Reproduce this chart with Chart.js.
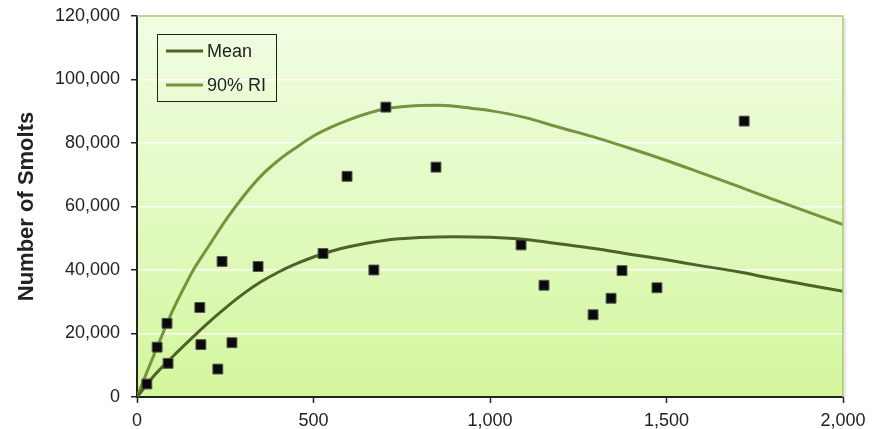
<!DOCTYPE html>
<html>
<head>
<meta charset="utf-8">
<script src="https://cdn.jsdelivr.net/npm/chart.js@4"></script>
<style>
  html, body { margin: 0; padding: 0; background: #fff; }
  #wrap { width: 882px; height: 429px; }
</style>
</head>
<body>
<div id="wrap"><canvas id="smoltChart" width="882" height="429"></canvas></div>
<script>
// Observed spawners (x) and smolts (y)
const obsSpawners = [28, 57, 85, 88, 178, 181, 229, 241, 269, 343, 527, 595, 671, 705, 847, 1088, 1153, 1292, 1343, 1374, 1473, 1720];
const obsSmolts = [4100, 15700, 23200, 10600, 28200, 16500, 8800, 42700, 17100, 41100, 45200, 69500, 40000, 91300, 72400, 47900, 35200, 25900, 31100, 39800, 34400, 86900];

// Fitted curves
const meanX = [0, 25, 50, 100, 150, 200, 250, 300, 350, 400, 450, 500, 550, 600, 700, 800, 900, 1000, 1100, 1200, 1300, 1400, 1500, 1600, 1700, 1800, 1900, 2000];
const meanY = [0, 3500, 6900, 12600, 18000, 23200, 28000, 32400, 36200, 39300, 41900, 44100, 45900, 47300, 49300, 50200, 50500, 50300, 49600, 48200, 46700, 44900, 43200, 41300, 39500, 37300, 35300, 33300];

const riX = [0, 25, 57, 85, 100, 145, 160, 200, 250, 300, 350, 400, 450, 500, 550, 600, 650, 700, 750, 800, 850, 900, 950, 1000, 1100, 1200, 1300, 1400, 1500, 1600, 1700, 1800, 1900, 2000];
const riY = [0, 7000, 15700, 23200, 27000, 37000, 40100, 47000, 55500, 63000, 69500, 74500, 78500, 82200, 85000, 87300, 89200, 90700, 91400, 91800, 91900, 91600, 90900, 90200, 88000, 84800, 81700, 78200, 74500, 70500, 66500, 62300, 58300, 54300];

const xTicks = [0, 500, 1000, 1500, 2000];
const yTicks = [0, 20000, 40000, 60000, 80000, 100000, 120000];

function pairs(xs, ys) {
    return xs.map((x, i) => ({ x: x, y: ys[i] }));
}

const fontFamily = '"Liberation Sans", Arial, sans-serif';

// plot area gradient + borders
const plotBackground = {
    id: 'plotBackground',
    beforeDraw(chart) {
        const { ctx, chartArea: a } = chart;
        const g = ctx.createLinearGradient(0, a.top, 0, a.bottom);
        g.addColorStop(0, '#f1fde2');
        g.addColorStop(0.5, '#e2fac2');
        g.addColorStop(1, '#d3f69c');
        ctx.save();
        ctx.fillStyle = g;
        ctx.fillRect(a.left, a.top, a.right - a.left, a.bottom - a.top);
        ctx.restore();
    },
    afterDraw(chart) {
        const { ctx, chartArea: a } = chart;
        ctx.save();
        // soft shadow right of the plot
        ctx.strokeStyle = 'rgba(0,0,0,0.08)';
        ctx.lineWidth = 3;
        ctx.beginPath();
        ctx.moveTo(a.right + 2, a.top + 2);
        ctx.lineTo(a.right + 2, a.bottom);
        ctx.stroke();
        ctx.strokeStyle = '#a9c76f';
        ctx.lineWidth = 1.5;
        ctx.beginPath();
        ctx.moveTo(a.left, a.top);
        ctx.lineTo(a.right, a.top);
        ctx.lineTo(a.right, a.bottom);
        ctx.stroke();
        ctx.restore();
    }
};

// legend box inside the plot
const innerLegend = {
    id: 'innerLegend',
    afterDraw(chart) {
        const ctx = chart.ctx;
        const a = chart.chartArea;
        const x0 = a.left + 20, y0 = a.top + 18;
        const w = 119, h = 67;
        ctx.save();
        ctx.strokeStyle = '#222';
        ctx.lineWidth = 1;
        ctx.strokeRect(x0 + 0.5, y0 + 0.5, w, h);
        ctx.font = '18px ' + fontFamily;
        ctx.textBaseline = 'middle';
        ctx.fillStyle = '#222';
        const items = chart.data.datasets.filter(d => d.label);
        items.forEach((d, i) => {
            const yy = y0 + 17 + i * 34;
            ctx.strokeStyle = d.borderColor;
            ctx.lineWidth = 3;
            ctx.beginPath();
            ctx.moveTo(x0 + 9, yy);
            ctx.lineTo(x0 + 46, yy);
            ctx.stroke();
            ctx.fillText(d.label, x0 + 50, yy + 1);
        });
        ctx.restore();
    }
};

const ctx = document.getElementById('smoltChart').getContext('2d');
new Chart(ctx, {
    type: 'scatter',
    data: {
        datasets: [
            {
                data: pairs(obsSpawners, obsSmolts),
                pointStyle: 'rect',
                pointRadius: 7,
                pointHoverRadius: 7,
                backgroundColor: '#0a0a0a',
                borderColor: '#555',
                borderWidth: 1
            },
            {
                label: 'Mean',
                data: pairs(meanX, meanY),
                showLine: true,
                borderColor: '#4f6228',
                borderWidth: 3,
                pointRadius: 0,
                cubicInterpolationMode: 'monotone'
            },
            {
                label: '90% RI',
                data: pairs(riX, riY),
                showLine: true,
                borderColor: '#77933c',
                borderWidth: 3,
                pointRadius: 0,
                cubicInterpolationMode: 'monotone'
            }
        ]
    },
    options: {
        responsive: false,
        animation: false,
        layout: { padding: { left: 0, right: 39, top: 16, bottom: 0 } },
        plugins: {
            legend: { display: false },
            tooltip: { enabled: false }
        },
        scales: {
            x: {
                type: 'linear',
                min: 0,
                max: 2000,
                afterBuildTicks(axis) { axis.ticks = xTicks.map(v => ({ value: v })); },
                afterFit(axis) { axis.height = 32; },
                grid: {
                    drawOnChartArea: false,
                    tickLength: 6,
                    tickColor: '#222',
                    tickWidth: 1.5
                },
                border: { color: '#222', width: 2 },
                ticks: {
                    padding: 7,
                    color: '#222',
                    font: { family: fontFamily, size: 18 },
                    callback: v => v.toLocaleString('en-US')
                }
            },
            y: {
                min: 0,
                max: 120000,
                afterBuildTicks(axis) { axis.ticks = yTicks.map(v => ({ value: v })); },
                afterFit(axis) {
                    axis.width = 137;
                    axis.paddingTop = 0;
                    axis.paddingBottom = 0;
                },
                grid: {
                    color: c => (c.tick.value === 0 || c.tick.value === 120000) ? 'rgba(0,0,0,0)' : '#ffffff',
                    lineWidth: 1.5,
                    tickLength: 6,
                    tickColor: '#222',
                    tickWidth: 1.5
                },
                border: { color: '#222', width: 2 },
                title: {
                    display: true,
                    text: 'Number of Smolts',
                    color: '#222',
                    font: { family: fontFamily, size: 22, weight: 'bold' },
                    padding: { top: 14, bottom: 0 }
                },
                ticks: {
                    padding: 11,
                    color: '#222',
                    font: { family: fontFamily, size: 18 },
                    callback: v => v.toLocaleString('en-US')
                }
            }
        }
    },
    plugins: [plotBackground, innerLegend]
});
</script>
</body>
</html>
